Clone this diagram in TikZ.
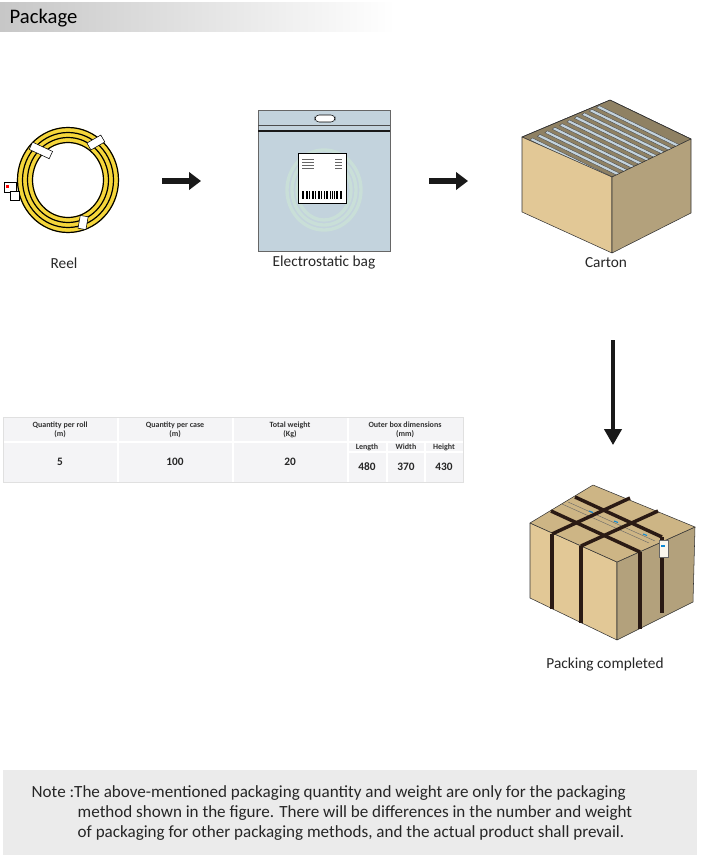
\documentclass[tikz,border=0pt]{standalone}
\usepackage{fontspec}
\setmainfont{Carlito}
\usetikzlibrary{arrows.meta,calc}
\definecolor{kraft}{HTML}{E2C896}
\definecolor{kraftd}{HTML}{B3A17C}
\definecolor{kraftt}{HTML}{CDB585}
\definecolor{bagblue}{HTML}{C3D3DD}
\definecolor{yel}{HTML}{F5D63A}
\definecolor{tbl}{HTML}{F4F4F6}
\definecolor{strap}{HTML}{2A1A14}
\tikzset{
  lab/.style={font=\fontsize{11.5}{13}\selectfont, text=black!85},
  th/.style={font=\bfseries\fontsize{6}{6.5}\selectfont, align=center, text=black!80},
  td/.style={font=\bfseries\fontsize{8.5}{9}\selectfont, text=black!85},
  note/.style={anchor=west, font=\fontsize{12.8}{14}\selectfont, text=black!85},
  bigarrow/.style={-{Triangle[length=9pt,width=13pt]}, line width=4.5pt, draw=black!90},
  edge/.style={draw=black!80, line width=0.4pt, line join=round}
}
\begin{document}
\begin{tikzpicture}[x=0.75pt,y=-0.75pt]
\useasboundingbox (0,0) rectangle (703,863);
% header
\shade[left color=black!22, right color=white] (0,3) rectangle (395,32);
\node[anchor=west, font=\fontsize{15.5}{17}\selectfont] (title) at (5,18) {Package};
% reel
\foreach \r in {50,45,40} {\draw[yel, line width=4.6pt] (68,180) ellipse ({\r-2} and \r);}
\foreach \r in {52.5,47.5,42.5,37.5} {\draw[black, line width=0.9pt] (68,180) ellipse ({\r-2} and \r);}
\draw[fill=white, rotate around={-25:(40,150)}] (30,146) rectangle (52,154);
\draw[fill=white, rotate around={30:(95,143)}] (88,139) rectangle (104,147);
\draw[fill=white, rotate around={80:(83,223)}] (77,219) rectangle (90,227);
\draw[fill=white] (4,182) rectangle (16,192);
\fill[red] (6,185) rectangle (9,188);
\draw[fill=white] (10,191) rectangle (19,200);
\node[lab] (reel) at (64,263) {Reel};
% arrows
\coordinate (a1s) at (162,181); \coordinate (a1e) at (201,181);
\draw[bigarrow] (a1s) -- (a1e);
% bag
\draw[fill=bagblue, draw=black!60] (258,110) rectangle (390,251);
\draw[black!70] (258,125) -- (390,125);
\draw[black!90, line width=0.8pt] (258,131) -- (390,131);
\draw[fill=white, rounded corners=3pt] (315,115) rectangle (335,122);
\foreach \r in {40,35,30} {\draw[black!15!bagblue!80!green!40, line width=2.5pt, opacity=0.6] (324,190) ellipse ({\r-3} and \r);}
\draw[fill=white] (298,153) rectangle (346,203);
\foreach \yy in {159,162,165,168} {\draw[black!60, line width=0.3pt] (302,\yy) -- (314,\yy); \draw[black!60, line width=0.3pt] (335,\yy) -- (342,\yy);}
\foreach \xx in {302,303.5,306,307,309.5,312,313,315.5,318,319,321.5,324,326,327,330,332,334,336,337.5,340,341} {\draw[black, line width=0.7pt] (\xx,191) -- (\xx,199);}
\node[lab] (bag) at (324,262) {Electrostatic bag};
\coordinate (a2s) at (429,181); \coordinate (a2e) at (468,181);
\draw[bigarrow] (a2s) -- (a2e);
% carton (open)
\draw[edge, fill=kraftd!80!black] (522,137) -- (610,100) -- (691,139) -- (612,177) -- cycle;
\begin{scope}
\clip (522,137) -- (610,100) -- (691,139) -- (612,177) -- cycle;
\foreach \i in {0,...,9} {
  \draw[fill=bagblue, draw=black!70, line width=0.3pt] ($(530,140)+(\i*7.4,-3.6*\i)$) -- ++(82,40) -- ++(2.5,-2) -- ++(-82,-40) -- cycle;
}
\end{scope}
\draw[edge, fill=kraft] (522,137) -- (612,177) -- (612,253) -- (522,212) -- cycle;
\draw[edge, fill=kraftd] (612,177) -- (691,139) -- (691,213) -- (612,253) -- cycle;
\draw[edge] (522,137) -- (610,100) -- (691,139);
\node[lab] (carton) at (606,263) {Carton};
% down arrow
\coordinate (a3s) at (613,340); \coordinate (a3e) at (613,445);
\draw[-{Triangle[length=12pt,width=13pt]}, line width=2.5pt, draw=black!90] (a3s) -- (a3e);
% closed box
\draw[edge, fill=kraft] (530,523) -- (617,562) -- (617,640) -- (530,598) -- cycle;
\draw[edge, fill=kraftd] (617,562) -- (695,527) -- (693,602) -- (617,640) -- cycle;
\draw[edge, fill=kraftt] (593,485) -- (530,523) -- (617,562) -- (695,527) -- cycle;
\draw[black!60, line width=0.3pt] (562,504) -- (649,543);
\draw[black!60, line width=0.3pt] (568,502) -- (655,541);
\draw[strap, line width=2.6pt] (551,511) -- (640,552);
\draw[strap, line width=2.6pt] (575,497) -- (662,537);
\draw[strap, line width=2.6pt] (552,534) -- (630,498);
\draw[strap, line width=2.6pt] (581,546) -- (658,511);
\draw[strap, line width=2.6pt] (552,534) -- (552,609);
\draw[strap, line width=2.6pt] (581,546) -- (581,623);
\draw[strap, line width=2.6pt] (640,552) -- (640,629);
\draw[strap, line width=2.6pt] (662,537) -- (662,613);
\foreach \p in {(589,511),(614,521),(643,534)} {\draw[cyan!70!blue, line width=0.8pt] \p -- ++(4,1.5);}
\draw[fill=white!85!kraft, draw=black!60] (659,540) rectangle (668,557);
\draw[cyan!70!blue, line width=0.8pt] (661,546) -- (665,546);
\node[lab] (packed) at (605,664) {Packing completed};
% table
\fill[tbl] (3,417) rectangle (463,482);
\draw[white, line width=1.5pt] (118,417) -- (118,482) (233,417) -- (233,482) (348,417) -- (348,482)
  (3,442) -- (348,442) (348,442) -- (463,442) (348,452) -- (463,452)
  (387,442) -- (387,482) (425,442) -- (425,482);
\draw[black!12] (3,417) rectangle (463,482);
\node[th] (h1) at (60,430) {Quantity per roll\\(m)};
\node[th] (h2) at (175,430) {Quantity per case\\(m)};
\node[th] (h3) at (290,430) {Total weight\\(Kg)};
\node[th] (h4) at (405,430) {Outer box dimensions\\(mm)};
\node[th] (h5) at (367,447) {Length};
\node[th] (h6) at (406,447) {Width};
\node[th] (h7) at (444,447) {Height};
\node[td] (d1) at (60,462) {5};
\node[td] (d2) at (175,462) {100};
\node[td] (d3) at (290,462) {20};
\node[td] (d4) at (367,467) {480};
\node[td] (d5) at (406,467) {370};
\node[td] (d6) at (444,467) {430};
% note
\fill[black!8] (3,770) rectangle (697,855);
\node[note] (n1) at (27,793) {Note :The above-mentioned packaging quantity and weight are only for the packaging};
\node[note] (n2) at (73,813) {method shown in the figure. There will be differences in the number and weight};
\node[note] (n3) at (73,833) {of packaging for other packaging methods, and the actual product shall prevail.};
\end{tikzpicture}
\end{document}
